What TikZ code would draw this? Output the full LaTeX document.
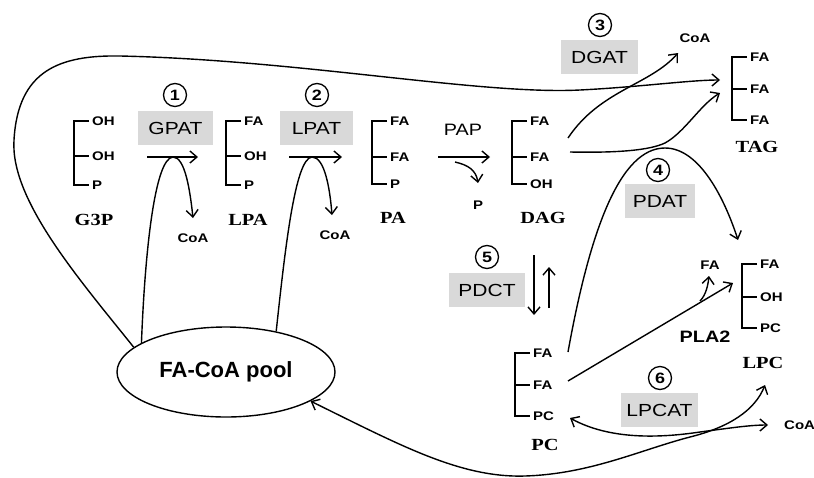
\documentclass[tikz,border=0pt]{standalone}
\usepackage{fontspec}
\setmainfont{Liberation Serif}[FakeStretch=1.2]
\setsansfont{Liberation Sans}[FakeStretch=1.2]
\newfontfamily\poolfont{Liberation Sans}
\usetikzlibrary{arrows.meta,shapes.geometric}
\definecolor{boxgray}{RGB}{217,217,217}
\tikzset{
 ln/.style={line width=1.4pt},
 conn/.style={line width=1.4pt, -{Straight Barb[length=7pt,width=12pt]}},
 dconn/.style={line width=1.4pt, {Straight Barb[length=7pt,width=12pt]}-{Straight Barb[length=7pt,width=12pt]}},
 lab/.style={font=\fontsize{12.5}{12.5}\selectfont\sffamily\bfseries, inner sep=0pt},
 mol/.style={font=\fontsize{17}{17}\selectfont\rmfamily\bfseries, inner sep=0pt},
 enz/.style={fill=boxgray, font=\fontsize{17.5}{17.5}\selectfont\sffamily, minimum height=34pt, inner sep=0pt},
 num/.style={circle, draw, line width=1.3pt, minimum size=23pt, inner sep=0pt, font=\fontsize{15}{15}\selectfont\sffamily\bfseries},
}
\newcommand{\molbr}[8]{%
 \draw[ln] (#2+15,#3) -- (#2,#3) -- (#2,#5) -- (#2+15,#5);
 \draw[ln] (#2,#4) -- (#2+15,#4);
 \node[lab,anchor=west] (#1a) at (#2+18,#3) {#6};
 \node[lab,anchor=west] (#1b) at (#2+18,#4) {#7};
 \node[lab,anchor=west] (#1c) at (#2+18,#5) {#8};
}
\begin{document}
\begin{tikzpicture}[x=1pt,y=-1pt]
\useasboundingbox (0,0) rectangle (814,477);

% molecules
\molbr{gtp}{74}{121}{156}{185}{OH}{OH}{P}
\molbr{lpa}{226}{121}{156}{185}{FA}{OH}{P}
\molbr{pa}{372}{121}{157}{184}{FA}{FA}{P}
\molbr{dag}{512}{121}{157}{184}{FA}{FA}{OH}
\molbr{tag}{732}{57}{89}{120}{FA}{FA}{FA}
\molbr{lpc}{742}{264}{297}{328}{FA}{OH}{PC}
\molbr{pc}{515}{353}{385}{416}{FA}{FA}{PC}

\node[mol] (nG3P) at (94,220) {G3P};
\node[mol] (nLPA) at (248,220) {LPA};
\node[mol] (nPA) at (393,218) {PA};
\node[mol] (nDAG) at (543,218) {DAG};
\node[mol] (nTAG) at (757,147) {TAG};
\node[mol] (nLPC) at (763,363) {LPC};
\node[mol] (nPC) at (545,445) {PC};

% enzymes
\node[num] (c1) at (175,95) {1};
\node[enz, minimum width=75pt] (gpat) at (175.5,128) {GPAT};
\node[num] (c2) at (317,95) {2};
\node[enz, minimum width=73pt] (lpat) at (316.5,128) {LPAT};
\node[num] (c3) at (600,25) {3};
\node[enz, minimum width=77pt] (dgat) at (599.5,57) {DGAT};
\node[num] (c4) at (658,170) {4};
\node[enz, minimum width=70pt] (pdat) at (660,201) {PDAT};
\node[num] (c5) at (487,257) {5};
\node[enz, minimum width=76pt] (pdct) at (487,290) {PDCT};
\node[num] (c6) at (660,378) {6};
\node[enz, minimum width=77pt] (lpcat) at (659.5,410) {LPCAT};

% other labels
\node[font=\fontsize{16.5}{16.5}\selectfont\sffamily, inner sep=0pt] (pap) at (463,130) {PAP};
\node[lab] (pfree) at (478,205) {P};
\node[lab] (coa1) at (193,238) {CoA};
\node[lab] (coa2) at (335,235) {CoA};
\node[lab] (coa3) at (695,38) {CoA};
\node[lab, anchor=west] (coa4) at (784,425) {CoA};
\node[font=\fontsize{16.5}{16.5}\selectfont\sffamily\bfseries, inner sep=0pt] (pla) at (705,337) {PLA2};
\node[lab] (fafree) at (710,265) {FA};

% pool
\node[ellipse, draw, line width=1.4pt, minimum width=218pt, minimum height=90pt,
      font=\fontsize{22}{22}\selectfont\poolfont\bfseries] (pool) at (226,372) {FA-CoA pool};

% coordinates
\coordinate (g1) at (147,157); \coordinate (g2) at (198,157);
\coordinate (gc) at (193,218);
\coordinate (l1) at (289,157); \coordinate (l2) at (342,157);
\coordinate (lc) at (332,215);
\coordinate (p1) at (438,157); \coordinate (p2) at (490,157);
\coordinate (pp) at (455,162); \coordinate (pt) at (478,183);
\coordinate (d1) at (534,255); \coordinate (d2) at (534,315);
\coordinate (u1) at (549,308); \coordinate (u2) at (549,267);
\coordinate (tagin1) at (720,80);
\coordinate (tagin2) at (720,93);
\coordinate (dgA) at (568,138); \coordinate (coaT) at (678,53);
\coordinate (dgB) at (570,152);
\coordinate (pcA) at (568,352); \coordinate (lpcT) at (738,240);
\coordinate (pcB) at (568,381); \coordinate (lpcS) at (733,283);
\coordinate (pl) at (700,301); \coordinate (faT) at (709,276);
\coordinate (pcC) at (570,418); \coordinate (coaR) at (768,425);
\coordinate (lpcB) at (765,385);

% GPAT / LPAT / PAP reactions
\draw[conn] (g1) -- (g2);
\draw[conn] (pool.161) .. controls (145,250) and (155,158) .. (173,157)
  .. controls (185,157) and (190,190) .. (gc);
\draw[conn] (l1) -- (l2);
\draw[conn] (pool.39) .. controls (285,250) and (295,158) .. (312,157)
  .. controls (325,157) and (330,190) .. (lc);
\draw[conn] (p1) -- (p2);
\draw[conn] (pp) .. controls (468,165) and (476,170) .. (pt);

% big loop to TAG
\draw[conn] (pool.165) .. controls (80,280) and (10,200) .. (14,140)
  .. controls (18,70) and (60,55) .. (120,56)
  .. controls (300,60) and (480,95) .. (580,90)
  .. controls (640,87) and (690,80) .. (tagin1);

% DGAT
\draw[conn] (dgA) .. controls (600,90) and (650,85) .. (coaT);
\draw[conn] (dgB) .. controls (620,153) and (650,150) .. (665,143)
  .. controls (685,132) and (700,105) .. (tagin2);

% PDAT
\draw[conn] (pcA) .. controls (590,230) and (620,148) .. (665,148)
  .. controls (700,148) and (725,200) .. (lpcT);

% PDCT
\draw[conn] (d1) -- (d2);
\draw[conn] (u1) -- (u2);

% PLA2
\draw[conn] (pcB) -- (lpcS);
\draw[conn] (pl) .. controls (706,295) and (708,285) .. (faT);

% LPCAT
\draw[dconn] (pcC) .. controls (610,440) and (660,438) .. (700,432)
  .. controls (730,428) and (750,425) .. (coaR);
\draw[dconn] (pool.-19) .. controls (400,445) and (460,478) .. (525,476)
  .. controls (590,474) and (640,450) .. (690,437)
  .. controls (730,427) and (755,410) .. (lpcB);
\end{tikzpicture}
\end{document}
